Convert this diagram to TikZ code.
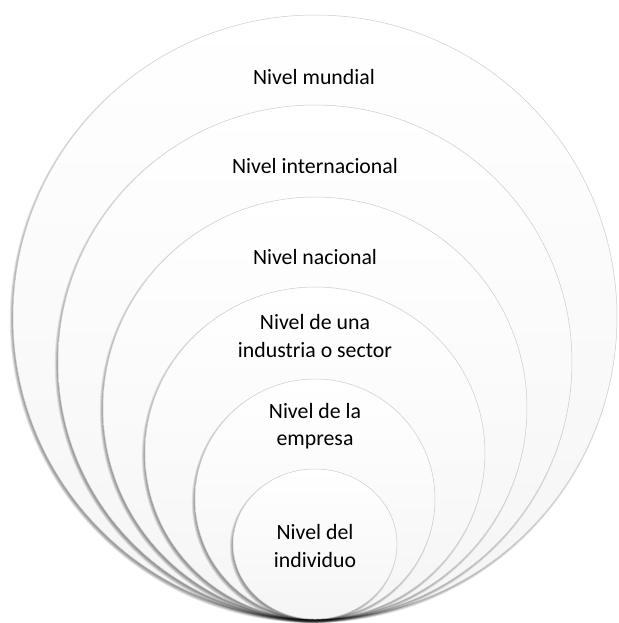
\documentclass[tikz,border=0pt]{standalone}
\usepackage{fontspec}
\setmainfont{Carlito}
\newcommand{\myring}[3]{%
  \foreach \k in {0,0.35,0.7,1.05,1.4}{%
    \fill[black, opacity=0.09] (313.2,#1+2.6) ellipse [x radius=#2pt+\k pt-0.7pt, y radius=#3pt+\k pt-0.7pt];
  }
  \path[ringfill] (315,#1) ellipse [x radius=#2pt, y radius=#3pt];
}
\begin{document}
\begin{tikzpicture}[x=0.5pt,y=-0.5pt,
  ringfill/.style={draw=gray!40, line width=0.25pt, top color=white, bottom color=gray!8},
  lbl/.style={font=\fontsize{10.9pt}{13.6pt}\selectfont, align=center, text=black, inner sep=0pt}]
\useasboundingbox (0,0) rectangle (619,623);
\fill[white] (0,0) rectangle (619,623);
\myring{317}{151}{151}
\myring{362}{128.5}{128.5}
\myring{408}{106}{105.5}
\myring{453}{85}{83}
\myring{499}{60}{60}
\myring{544}{41}{37.5}
\node[lbl] (mundial) at (314,77) {Nivel mundial};
\node[lbl] (internacional) at (315,166) {Nivel internacional};
\node[lbl] (nacional) at (315,257) {Nivel nacional};
\node[lbl] (industria) at (315,336) {Nivel de una\\industria o sector};
\node[lbl] (empresa) at (315,426) {Nivel de la\\empresa};
\node[lbl] (individuo) at (315,546) {Nivel del\\individuo};
\end{tikzpicture}
\end{document}
